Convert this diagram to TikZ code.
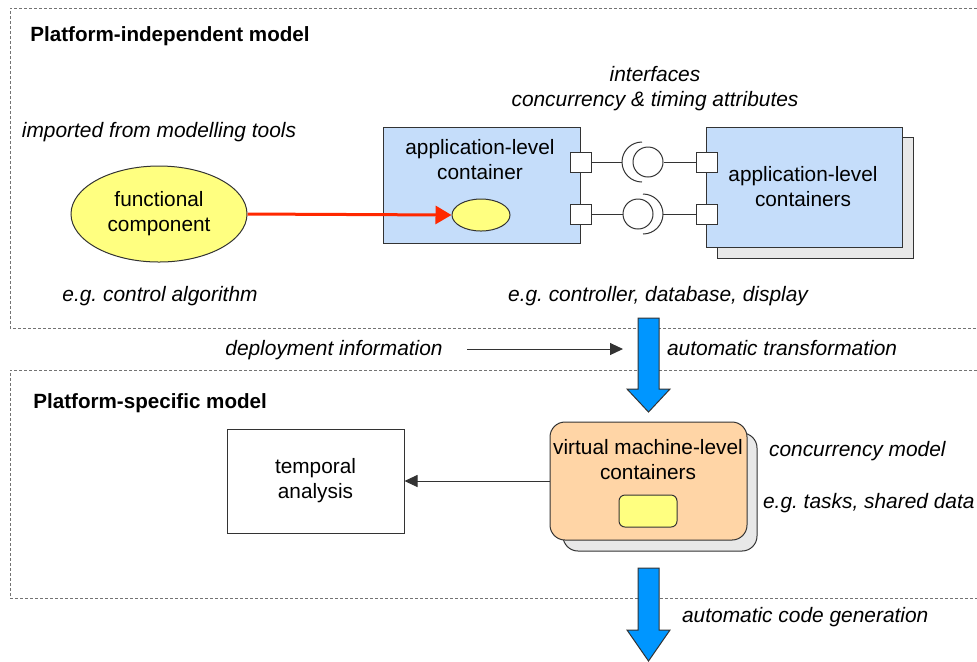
\documentclass[tikz,border=0pt]{standalone}
\usepackage{fontspec}
\setmainfont{Liberation Sans}
\frenchspacing
\usetikzlibrary{arrows.meta,shapes.geometric}
\definecolor{AppBlue}{RGB}{197,221,250}
\definecolor{CompYellow}{RGB}{255,255,128}
\definecolor{VmPeach}{RGB}{255,213,166}
\definecolor{ShadowGrey}{RGB}{232,232,232}
\definecolor{FlowBlue}{RGB}{0,150,255}
\definecolor{LinkRed}{RGB}{255,40,0}
\pgfdeclarelayer{background}
\pgfsetlayers{background,main}

\begin{document}
\begin{tikzpicture}[x=0.5pt,y=-0.5pt,font=\fontsize{10.4}{12.5}\selectfont,
  box/.style={draw=black!80,line width=0.5pt,inner sep=0pt},
  port/.style={box,fill=white,minimum width=10.5pt,minimum height=10pt},
  ball/.style={draw=black!80,line width=0.5pt,circle,inner sep=0pt,minimum size=15pt},
  wire/.style={draw=black!80,line width=0.5pt},
  note/.style={font=\fontsize{10.45}{12.5}\selectfont\itshape},
  heading/.style={font=\fontsize{10.3}{12.5}\selectfont\bfseries,anchor=west,inner xsep=0pt},
  frame/.style={draw=black!55,line width=0.5pt,dash pattern=on 1.5pt off 1pt}]
\useasboundingbox (0,0) rectangle (977,661);
%%background Layer
\begin{pgfonlayer}{background}
\draw[frame] (977,8) -- (10,8) -- (10,328) -- (977,328);
\draw[frame] (977,370) -- (10,370) -- (10,598) -- (977,598);
\draw[box,fill=ShadowGrey] (717,137) rectangle (913,258);
\draw[box,fill=ShadowGrey,rounded corners=7.5pt] (563,433) rectangle (757,551);
\end{pgfonlayer}

%%Platform-independent model
\node[heading] (pimtitle) at (30,36) {Platform-independent model};
\node[note] (imported) at (159,132) {imported from modelling tools};
\node[ellipse,box,fill=CompYellow,minimum width=88pt,minimum height=48pt,align=center] (func) at (159,214) {functional\\component};
\node[note] (controlalg) at (160,296) {e.g. control algorithm};

\node[box,fill=AppBlue,minimum width=98.5pt,minimum height=58pt] (appbox) at (481.5,185) {};
\node[align=center] (applabel) at (480,159.5) {application-level\\container};
\node[ellipse,box,fill=CompYellow,minimum width=29pt,minimum height=16pt] (funcin) at (481,215) {};
\draw[LinkRed,line width=1.5pt,-{Triangle[length=8pt,width=9pt]}] (func.east) -- (funcin.west);

\node[box,fill=AppBlue,minimum width=98pt,minimum height=60pt] (appsbox) at (804,187) {};
\node[align=center] (appslabel) at (803,187) {application-level\\containers};

%%ports and interfaces
\foreach \n/\x/\y in {pa1/580.5/162,pa2/580.5/214,pb1/706.5/162,pb2/706.5/214}
{\node[port] (\n) at (\x,\y) {};
}
\node[ball] (balla) at (648,162) {};
\draw[wire] (642,142) arc[start angle=270,end angle=90,radius=20];
\coordinate (socka) at (622,162);
\draw[wire] (pa1.east) -- (socka);
\draw[wire] (balla.east) -- (pb1.west);
\node[ball] (ballb) at (638,214) {};
\draw[wire] (643,194) arc[start angle=-90,end angle=90,radius=20];
\coordinate (sockb) at (663,214);
\draw[wire] (pa2.east) -- (ballb.west);
\draw[wire] (sockb) -- (pb2.west);

\node[note,align=center] (ifaces) at (655,88.5) {interfaces\\concurrency \& timing attributes};
\node[note] (controller) at (658,296) {e.g. controller, database, display};

%%transformations
\foreach \ys/\yh/\yt in {318/389/412,568/630/661}
{\draw[black!80,line width=0.5pt,fill=FlowBlue] (638,\ys) -- (659,\ys) -- (659,\yh) -- (670,\yh) -- (648.5,\yt) -- (627,\yh) -- (638,\yh) -- cycle;
}
\node[note] (deploy) at (334,350) {deployment information};
\coordinate (depstart) at (467,349);
\coordinate (depend) at (623,349);
\draw[wire,-{Triangle[length=6.5pt,width=6pt]}] (depstart) -- (depend);
\node[note,anchor=west] (autotrans) at (660,348) {automatic transformation};
\node[note,anchor=west] (autocode) at (675,617) {automatic code generation};

%%Platform-specific model
\node[heading] (psmtitle) at (33,403) {Platform-specific model};
\node[box,fill=VmPeach,rounded corners=7.5pt,minimum width=98.5pt,minimum height=59pt] (vmbox) at (648.5,481) {};
\node[align=center] (vmlabel) at (648,459.5) {virtual machine-level\\containers};
\node[box,fill=CompYellow,rounded corners=3pt,minimum width=29pt,minimum height=16pt] (vmtask) at (648,511) {};
\node[note,anchor=west] (concmodel) at (762,451) {concurrency model};
\node[note,anchor=west] (tasks) at (756,503) {e.g. tasks, shared data};

\node[box,minimum width=88.5pt,minimum height=52pt,align=center] (temporal) at (315.5,481) {temporal\\analysis};
\draw[wire,-{Triangle[length=6.5pt,width=6pt]}] (vmbox.west) -- (temporal.east);

\end{tikzpicture}
\end{document}
